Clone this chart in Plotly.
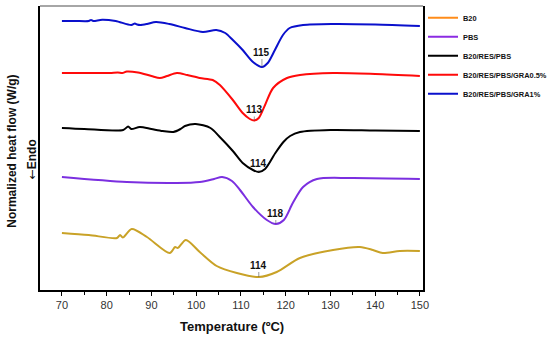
import plotly.graph_objects as go

# ---- data (temperature in ºC, normalized heat flow in arbitrary stacked units) ----
t_b20 = [70, 76, 82.3, 83, 83.6, 85.6, 89, 94.1, 95.3, 95.9, 97.7, 100.8, 104.6, 109.1, 114, 118, 123.2, 130.6, 136.6, 139.5, 141.7, 145.5, 150]
y_b20 = [5.7, 5.5, 5.2, 5.5, 5.25, 6.1, 5.3, 3.7, 4.3, 4.2, 5.0, 3.8, 2.4, 1.7, 1.3, 1.8, 3.2, 4.0, 4.3, 4.0, 3.7, 3.9, 3.9]

t_pbs = [70, 84.5, 95.7, 100.8, 104, 105.8, 108, 109.8, 112.7, 115.8, 117.8, 119.6, 121.6, 123.9, 127, 134.4, 150]
y_pbs = [11.3, 10.8, 10.7, 10.8, 11.1, 11.3, 10.9, 10.0, 8.3, 7.0, 6.6, 7.0, 8.7, 10.3, 11.1, 11.2, 11.1]

t_res = [70, 75, 83.7, 84.8, 85.5, 87.4, 90, 92.5, 94.9, 96.5, 97.5, 99.9, 103.2, 105.5, 108.2, 110.4, 112.7, 114, 115.4, 117.7, 119.5, 121, 123.2, 130, 140, 150]
y_res = [16.2, 16.1, 16.0, 16.35, 16.1, 16.3, 16.1, 15.9, 15.8, 16.1, 16.4, 16.6, 16.2, 15.2, 13.9, 12.7, 12.0, 11.8, 12.1, 13.7, 14.8, 15.4, 15.8, 16.0, 15.95, 15.9]

t_gra05 = [70, 75, 80.7, 82.5, 83.5, 84.5, 87, 90, 91.9, 93.5, 95.7, 98, 100.8, 103.7, 105.3, 108.2, 110.4, 112, 113, 114, 115.4, 117.2, 120.3, 123.2, 130.6, 140, 150]
y_gra05 = [21.7, 21.7, 21.7, 21.75, 21.7, 21.85, 21.75, 21.4, 21.2, 21.4, 21.7, 21.5, 21.2, 21.0, 20.5, 19.0, 17.7, 17.1, 16.95, 17.2, 18.5, 20.2, 21.2, 21.5, 21.7, 21.6, 21.4]

t_gra1 = [70, 73, 76, 76.5, 77, 79, 82, 85.5, 86.3, 86.8, 87.5, 89, 91, 94, 97.5, 101.5, 104.5, 106.5, 108.2, 110.4, 112.7, 114.7, 116, 117.6, 119.4, 120.9, 123.9, 130.6, 140, 150]
y_gra1 = [26.9, 26.9, 26.9, 27.0, 26.9, 27.03, 26.9, 26.5, 26.65, 26.55, 26.5, 26.6, 26.8, 26.6, 26.2, 25.8, 26.0, 25.7, 25.0, 24.0, 22.8, 22.3, 22.7, 24.0, 25.5, 26.2, 26.5, 26.6, 26.55, 26.4]

names = ["B20", "PBS", "B20/RES/PBS", "B20/RES/PBS/GRA0.5%", "B20/RES/PBS/GRA1%"]
curve_colors = ["#C9A227", "#7B2FE0", "#000000", "#FF0A0A", "#0A10CC"]
legend_colors = ["#FF8C1A", "#8B2BE2", "#000000", "#FF0A0A", "#0A10CC"]

peak_labels = ["114", "118", "114", "113", "115"]
peak_t = [114, 117.8, 114, 113, 114.7]
peak_y = [1.3, 6.6, 11.8, 16.95, 22.3]
label_off = [-12, -11, -9, -11, -15]

x_ticks = [70, 80, 90, 100, 110, 120, 130, 140, 150]

xs = [t_b20, t_pbs, t_res, t_gra05, t_gra1]
ys = [y_b20, y_pbs, y_res, y_gra05, y_gra1]

FONT = "Arial, Liberation Sans, sans-serif"

fig = go.Figure()
for x, y, c in zip(xs, ys, curve_colors):
    fig.add_trace(go.Scatter(x=x, y=y, mode="lines", showlegend=False,
                             line=dict(color=c, width=2, shape="spline", smoothing=0.8),
                             hoverinfo="skip"))
for n, c in zip(names, legend_colors):
    fig.add_trace(go.Scatter(x=[None], y=[None], mode="lines", name="<b>" + n + "</b>",
                             line=dict(color=c, width=2)))

for lab, tx, ty, off in zip(peak_labels, peak_t, peak_y, label_off):
    fig.add_annotation(x=tx, y=ty, text="<b>" + lab + "</b>", showarrow=True,
                       arrowhead=0, arrowwidth=0.6, arrowcolor="#555",
                       ax=0, ay=off, font=dict(family=FONT, size=10, color="#111"))

fig.add_annotation(xref="paper", yref="paper", x=-0.073, y=0.487, text="<b>Normalized heat flow (W/g)</b>",
                   textangle=-90, showarrow=False, xanchor="center", yanchor="middle",
                   font=dict(family=FONT, size=12, color="#111"))
fig.add_annotation(xref="paper", yref="paper", x=-0.021, y=0.46,
                   text="<span style='font-family:DejaVu Sans'>←</span><b>Endo</b>",
                   textangle=-90, showarrow=False, xanchor="center", yanchor="middle",
                   font=dict(family=FONT, size=12, color="#111"))
fig.add_annotation(xref="paper", yref="paper", x=0.501, y=-0.127, text="<b>Temperature (ºC)</b>",
                   showarrow=False, xanchor="center", yanchor="middle",
                   font=dict(family=FONT, size=13, color="#111"))

# top border (grey)
fig.add_shape(type="line", xref="paper", yref="paper", x0=0, x1=1, y0=1, y1=1,
              line=dict(color="#888", width=1.5))

fig.update_layout(
    width=550, height=339,
    margin=dict(l=40, r=127, t=6, b=49, autoexpand=False),
    paper_bgcolor="white", plot_bgcolor="white",
    font=dict(family=FONT, color="#222"),
    legend=dict(x=1.0, y=1.01, xanchor="left", yanchor="top",
                font=dict(family=FONT, size=7.4, color="#111"),
                bgcolor="rgba(0,0,0,0)", itemwidth=30, tracegroupgap=0),
    xaxis=dict(range=[65.1, 150.7], tickvals=x_ticks,
               ticks="outside", ticklen=4, tickwidth=1, tickcolor="#000",
               minor=dict(tickvals=[75, 85, 95, 105, 115, 125, 135, 145], ticks="outside", ticklen=3, tickcolor="#000"),
               showline=True, linecolor="#000", linewidth=1.5, showgrid=False, zeroline=False,
               automargin=False,
               tickfont=dict(family=FONT, size=11, color="#333")),
    yaxis=dict(range=[0, 28.4], showticklabels=False, ticks="", showgrid=False, zeroline=False,
               automargin=False,
               showline=True, linecolor="#000", linewidth=1.5, mirror=True),
)

fig.write_html("out.html", config={"displayModeBar": False},
               post_script="document.body.style.margin='0px';")
